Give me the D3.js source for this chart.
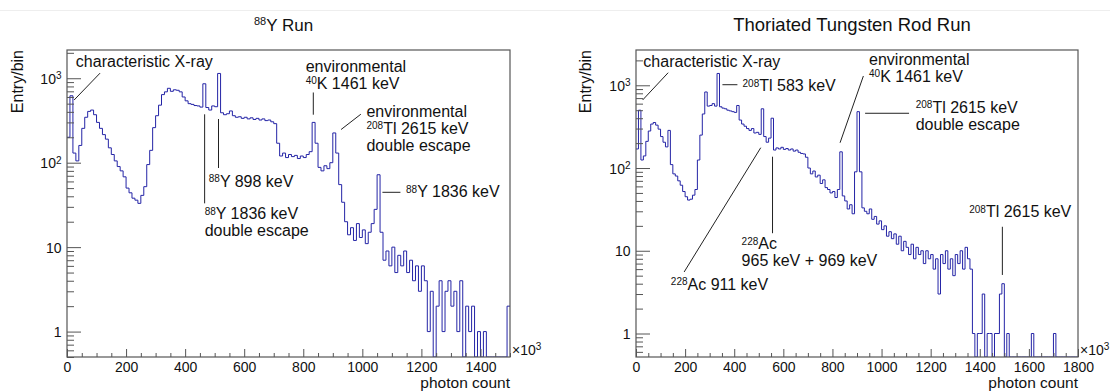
<!DOCTYPE html>
<html>
<head>
<meta charset="utf-8">
<script src="https://cdn.jsdelivr.net/npm/d3@7"></script>
<style>
  body { margin: 0; background: #fff; }
  text { font-family: "Liberation Sans", Arial, Helvetica, sans-serif; fill: #111; }
</style>
</head>
<body>
<svg id="chart" width="1110" height="392"></svg>
<script>
// bin width of both histograms (photon count, x10^3)
const binWidth = 10;

// 88Y run, 0 - 1500
const y88Counts = [
  200, 620, 130, 105, 160, 255, 345, 405, 420, 370,
  300, 255, 215, 190, 150, 125, 105, 90, 80, 68,
  50, 44, 38, 36, 33, 41, 52, 95, 140, 260,
  360, 480, 640, 690, 760, 700, 730, 720, 690, 600,
  540, 500, 490, 475, 470, 455, 860, 450, 420, 470,
  460, 1140, 390, 370, 380, 410, 360, 345, 350, 335,
  345, 330, 340, 325, 335, 320, 330, 315, 320, 305,
  290, 170, 120, 130, 115, 125, 118, 122, 112, 120,
  115, 125, 135, 300, 170, 88, 80, 92, 85, 100,
  225, 130, 55, 34, 20, 14, 17, 12, 19, 13,
  16, 11, 15, 19, 28, 72, 15, 7, 9, 6,
  10, 5, 8, 6, 9, 5, 7, 4, 6, 3,
  6, 4, 1, 3, 0, 2, 4, 1, 3, 4,
  2, 3, 1, 4, 0, 2, 1, 2, 0, 1,
  0, 1, 0, 0, 0, 0, 0, 0, 0, 2
];

// thoriated tungsten rod run, 0 - 1800
const thRodCounts = [
  170, 500, 125, 140, 210, 280, 340, 355, 330, 295,
  240, 205, 180, 285, 110, 85, 80, 70, 62, 52,
  45, 41, 42, 47, 55, 125, 250, 450, 830, 560,
  570, 600, 560, 1390, 550, 530, 520, 500, 490, 480,
  470, 570, 380, 340, 320, 300, 285, 300, 265, 270,
  255, 520, 240, 205, 230, 400, 165, 175, 170, 178,
  168, 172, 165, 170, 160, 165, 155, 150, 148, 135,
  100, 85, 92, 78, 82, 65, 72, 58, 55, 50,
  52, 44, 55, 157, 46, 40, 32, 36, 28, 90,
  480, 90, 33, 30, 28, 32, 24, 26, 21, 23,
  18, 20, 15, 17, 14, 16, 12, 15, 10, 13,
  11, 9, 12, 8, 11, 9, 10, 7, 10, 8,
  9, 6, 8, 3, 9, 7, 10, 6, 8, 5,
  9, 7, 10, 6, 11, 8, 6, 1, 0, 1,
  1, 3, 0, 1, 1, 0, 1, 1, 3, 4,
  0, 1, 0, 0, 0, 0, 0, 0, 0, 0,
  0, 1, 0, 0, 0, 0, 0, 0, 0, 0,
  1, 0, 0, 0, 0, 0, 0, 0, 0, 0
];

const y88XTicks = [0, 200, 400, 600, 800, 1000, 1200, 1400];
const thXTicks = [0, 200, 400, 600, 800, 1000, 1200, 1400, 1600, 1800];
const yMajorTicks = [1, 10, 100, 1000];
const yMajorLabels = ["1", "10", "10^{2}", "10^{3}"];

// annotations: text anchor and leader line in data coordinates
const y88Notes = [
  { lines: ["characteristic X-ray"], at: [30, 1370], seg: [[112, 1150], [24, 552]] },
  { lines: ["^{88}Y 898 keV"], at: [480, 52], seg: [[513, 329], [513, 86.5]] },
  { lines: ["^{88}Y 1836 keV", "double escape"], at: [466, 21.3], seg: [[466, 374], [466, 33]] },
  { lines: ["environmental", "^{40}K 1461 keV"], at: [808, 1186], seg: [[834, 678], [834, 370]] },
  { lines: ["environmental", "^{208}Tl 2615 keV", "double escape"], at: [1014, 348], seg: [[995, 375], [928, 247]] },
  { lines: ["^{88}Y 1836 keV"], at: [1148, 39.2], seg: [[1068, 44.6], [1129, 44.6]] }
];
const thNotes = [
  { lines: ["characteristic X-ray"], at: [30, 1678], seg: [[131, 1419], [27, 664]] },
  { lines: ["^{208}Tl 583 keV"], at: [434, 853], seg: [[352, 1016], [413, 1016]] },
  { lines: ["^{228}Ac 911 keV"], at: [142, 3.36], seg: [[508, 176], [196, 5.54]] },
  { lines: ["^{228}Ac", "965 keV + 969 keV"], at: [430, 10.4], seg: [[556, 137], [556, 16.3]] },
  { lines: ["environmental", "^{40}K 1461 keV"], at: [949, 1759], seg: [[926, 1295], [831, 202]] },
  { lines: ["^{208}Tl 2615 keV", "double escape"], at: [1139, 466], seg: [[933, 459], [1112, 459]] },
  { lines: ["^{208}Tl 2615 keV"], at: [1357, 25.4], seg: [[1492, 19.5], [1492, 5.1]] }
];

const panels = [
  { counts: y88Counts, xMax: 1500, yMin: 0.5, yMax: 2160, xTicks: y88XTicks, notes: y88Notes,
    left: 67, right: 510, top: 50, bottom: 357, title: "^{88}Y Run", titleSize: 17, titleSup: 11, labelX: 23 },
  { counts: thRodCounts, xMax: 1800, yMin: 0.52, yMax: 2670, xTicks: thXTicks, notes: thNotes,
    left: 636, right: 1078, top: 50, bottom: 357, title: "Thoriated Tungsten Rod Run", titleSize: 18.5, titleSup: 11, labelX: 591 }
];

const histColor = "#2424a6";
const axisColor = "#555";
const svg = d3.select("#chart");

// faint separator line at the top of the picture
svg.append("line").attr("x1", 0).attr("x2", 1110).attr("y1", 10.5).attr("y2", 10.5)
  .attr("stroke", "#eee");

// text with ^{...} superscripts
function richText(sel, str, supSize, raise) {
  const parts = str.split(/\^\{([^}]*)\}/);
  let shifted = false;
  parts.forEach((p, i) => {
    if (!p) return;
    const ts = sel.append("tspan").text(p);
    if (i % 2 === 1) {
      ts.attr("font-size", supSize).attr("dy", -raise);
      shifted = true;
    } else if (shifted) {
      ts.attr("dy", raise);
      shifted = false;
    }
  });
  return sel;
}

panels.forEach((p, pi) => {
  const x = d3.scaleLinear().domain([0, p.xMax]).range([p.left, p.right]);
  const y = d3.scaleLog().domain([p.yMin, p.yMax]).range([p.bottom, p.top]).clamp(true);
  const yv = v => v > 0 ? y(v) : p.bottom;

  const g = svg.append("g");

  // title
  richText(g.append("text")
      .attr("x", (p.left + p.right) / 2 - 5)
      .attr("y", 31)
      .attr("text-anchor", "middle")
      .attr("font-size", p.titleSize),
    p.title, p.titleSup, 6.5);

  // histogram outline
  const pts = [];
  p.counts.forEach((c, i) => {
    pts.push([i * binWidth, c]);
    pts.push([(i + 1) * binWidth, c]);
  });
  const clipId = "clip" + pi;
  g.append("clipPath").attr("id", clipId).append("rect")
    .attr("x", p.left).attr("y", p.top)
    .attr("width", p.right - p.left).attr("height", p.bottom - p.top);
  g.append("path")
    .datum(pts)
    .attr("clip-path", `url(#${clipId})`)
    .attr("fill", "none")
    .attr("stroke", histColor)
    .attr("stroke-width", 1)
    .attr("d", d3.line().x(d => x(d[0])).y(d => yv(d[1])));

  // x axis, ticks pointing inside
  const minorX = d3.range(0, p.xMax + 1, 50).filter(v => v % 200 !== 0);
  g.append("g")
    .attr("transform", `translate(0,${p.bottom})`)
    .call(d3.axisBottom(x).tickValues(minorX).tickSize(-4).tickFormat(""))
    .call(a => a.select(".domain").remove());
  const xAxis = g.append("g")
    .attr("transform", `translate(0,${p.bottom})`)
    .call(d3.axisBottom(x).tickValues(p.xTicks).tickSize(-8).tickPadding(5).tickFormat(d3.format("d")))
    .call(a => a.select(".domain").remove());
  xAxis.selectAll("text").attr("font-size", 14).attr("font-family", null);

  // y axis, log ticks pointing inside
  const minorY = [];
  [0.1, 1, 10, 100, 1000].forEach(d => {
    for (let m = 2; m <= 9; m++) {
      const v = m * d;
      if (v >= p.yMin && v <= p.yMax) minorY.push(v);
    }
  });
  g.append("g")
    .attr("transform", `translate(${p.left},0)`)
    .call(d3.axisLeft(y).tickValues(minorY).tickSize(-7).tickFormat(""))
    .call(a => a.select(".domain").remove());
  const yAxis = g.append("g")
    .attr("transform", `translate(${p.left},0)`)
    .call(d3.axisLeft(y).tickValues(yMajorTicks).tickSize(-14).tickPadding(5.5))
    .call(a => a.select(".domain").remove());
  yAxis.selectAll(".tick text").each(function (d) {
    const t = d3.select(this).text(null).attr("font-size", 14).attr("font-family", null)
      .attr("dy", null).attr("y", 5);
    richText(t, yMajorLabels[yMajorTicks.indexOf(d)], 10, 4.5);
  });

  g.selectAll(".tick line").attr("stroke", axisColor);

  // frame
  g.append("rect")
    .attr("x", p.left).attr("y", p.top)
    .attr("width", p.right - p.left).attr("height", p.bottom - p.top)
    .attr("fill", "none").attr("stroke", axisColor).attr("stroke-width", 1.2);

  // axis titles
  richText(g.append("text")
      .attr("x", p.right + 2).attr("y", p.bottom - 2)
      .attr("font-size", 14),
    "×10^{3}", 10, 5);
  g.append("text")
    .attr("x", p.right).attr("y", p.bottom + 31)
    .attr("text-anchor", "end")
    .attr("font-size", 15.5)
    .text("photon count");
  g.append("text")
    .attr("transform", `translate(${p.labelX},${p.top}) rotate(-90)`)
    .attr("text-anchor", "end")
    .attr("font-size", 16)
    .text("Entry/bin");

  // annotations
  p.notes.forEach(n => {
    g.append("line")
      .attr("x1", x(n.seg[0][0])).attr("y1", y(n.seg[0][1]))
      .attr("x2", x(n.seg[1][0])).attr("y2", y(n.seg[1][1]))
      .attr("stroke", "#222").attr("stroke-width", 1);
    n.lines.forEach((ln, li) => {
      richText(g.append("text")
          .attr("x", x(n.at[0]))
          .attr("y", y(n.at[1]) + li * 17)
          .attr("font-size", 16),
        ln, 10, 4.5);
    });
  });
});
</script>
</body>
</html>
